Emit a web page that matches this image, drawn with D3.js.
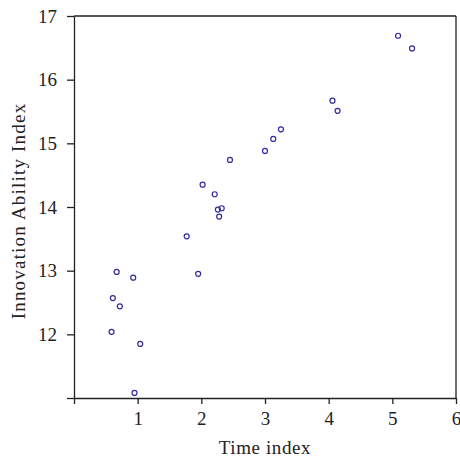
<!DOCTYPE html>
<html>
<head>
<meta charset="utf-8">
<script src="https://cdn.jsdelivr.net/npm/d3@7"></script>
<style>
  body { margin: 0; background: #fff; }
  text { font-family: "Liberation Serif", "Times New Roman", serif; fill: #222; }
</style>
</head>
<body>
<div class="content"></div>
<script>
// time index values and the innovation ability index
var timeIndex = [0.67, 0.93, 1.95, 0.61, 0.72, 0.59, 1.04, 0.95,
                 3.25, 3.13, 3.00, 2.45, 2.02, 2.21, 2.32, 2.26, 2.28, 1.77,
                 5.09, 5.31, 4.06, 4.14];
var abilityIndex = [12.98, 12.89, 12.95, 12.57, 12.44, 12.04, 11.85, 11.08,
                    15.22, 15.07, 14.88, 14.74, 14.35, 14.20, 13.98, 13.96, 13.85, 13.54,
                    16.69, 16.49, 15.67, 15.51];
var xTicks = [0, 1, 2, 3, 4, 5, 6];
var yTicks = [11, 12, 13, 14, 15, 16, 17];

var margin = {top: 16, right: 4, bottom: 65, left: 74},
    width = 460 - margin.left - margin.right,
    height = 463 - margin.top - margin.bottom;

var x = d3.scaleLinear().domain([0, 6]).range([0, width]);
var y = d3.scaleLinear().domain([11, 17]).range([height, 0]);

var svg = d3.select('.content').append('svg')
  .attr('width', 460).attr('height', 463);
var g = svg.append('g').attr('transform', 'translate(' + margin.left + ',' + margin.top + ')');

var xAxis = g.append('g').attr('transform', 'translate(0,' + height + ')')
  .call(d3.axisBottom(x).tickValues(xTicks).tickSizeInner(6).tickSizeOuter(0)
    .tickFormat(function(d){ return d === 0 ? '' : d; }));
var yAxis = g.append('g')
  .call(d3.axisLeft(y).tickValues(yTicks).tickSizeInner(7).tickSizeOuter(0)
    .tickFormat(function(d){ return d === 11 ? '' : d; }));

[xAxis, yAxis].forEach(function(a){
  a.selectAll('path, line').attr('stroke', '#222').attr('stroke-width', 1.3);
  a.selectAll('text').attr('font-size', 19).attr('font-family', '"Liberation Serif", serif').attr('fill', '#222');
});
xAxis.selectAll('text').attr('dy', '0.95em');
yAxis.selectAll('text').attr('x', -17);

// frame top and right
g.append('line').attr('x1', 0).attr('x2', width).attr('y1', 0).attr('y2', 0)
  .attr('stroke', '#222').attr('stroke-width', 1.3);
g.append('line').attr('x1', width).attr('x2', width).attr('y1', 0).attr('y2', height)
  .attr('stroke', '#222').attr('stroke-width', 1.3);

g.selectAll('circle.pt').data(timeIndex).enter().append('circle')
  .attr('class', 'pt')
  .attr('cx', function(d){ return x(d); })
  .attr('cy', function(d, i){ return y(abilityIndex[i]); })
  .attr('r', 2.5)
  .attr('fill', 'none')
  .attr('stroke', '#2f2a9e')
  .attr('stroke-width', 1.2);

svg.append('text').attr('x', margin.left + width / 2).attr('y', 454)
  .attr('text-anchor', 'middle').attr('font-size', 19).attr('letter-spacing', 0.6)
  .text('Time index');
svg.append('text').attr('transform', 'translate(25,' + 211 + ') rotate(-90)')
  .attr('text-anchor', 'middle').attr('font-size', 19).attr('letter-spacing', 1.2)
  .text('Innovation Ability Index');
</script>
</body>
</html>
